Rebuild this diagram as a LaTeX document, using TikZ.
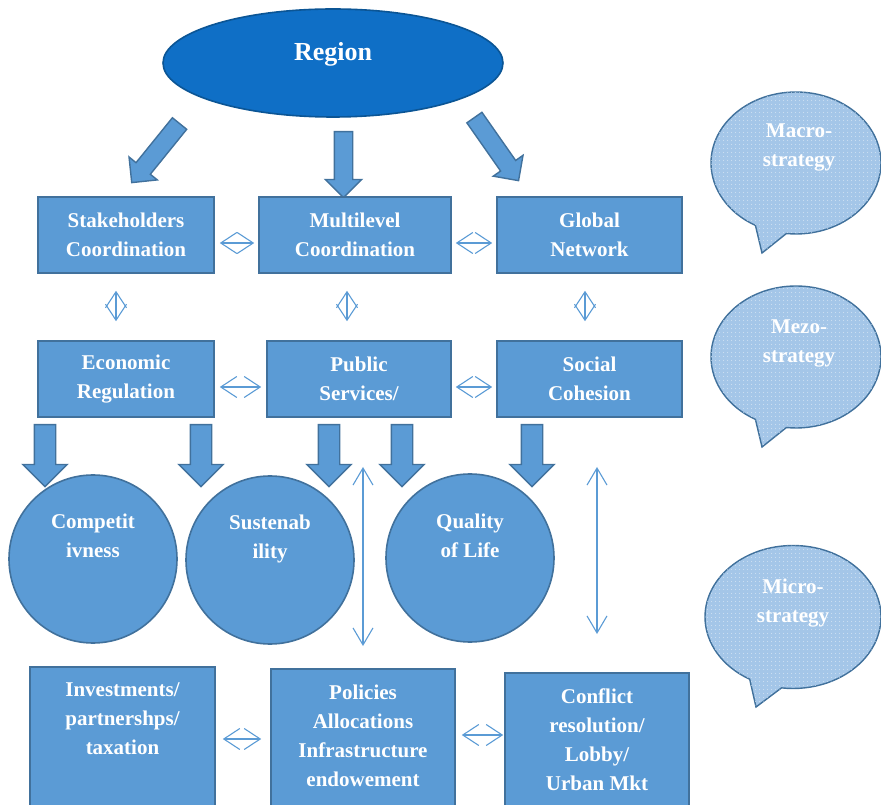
\documentclass[tikz,border=0pt]{standalone}
\usepackage{fontspec}
\setmainfont{Liberation Serif}
\usetikzlibrary{positioning,shapes.geometric,shapes.arrows,shapes.callouts,arrows.meta,patterns.meta}

\definecolor{boxfill}{HTML}{5B9BD5}
\definecolor{boxline}{HTML}{41719C}
\definecolor{regionfill}{HTML}{0F6FC6}
\definecolor{regionline}{HTML}{0B5595}
\definecolor{bubblefill}{HTML}{A4C6E8}

\begin{document}
\begin{tikzpicture}[x=1pt,y=1pt,
		labeltext/.style={text=white,font=\fontsize{21}{29}\selectfont\bfseries,align=center,inner sep=0pt},
		box/.style={rectangle,draw=boxline,fill=boxfill,line width=1.6pt,minimum height=76pt,labeltext},
		blob/.style={circle,draw=boxline,fill=boxfill,line width=1.6pt,minimum size=168pt,inner sep=0pt},
		bubble/.style={ellipse callout,draw=boxline,line width=1.4pt,fill=bubblefill,postaction={pattern={Dots[distance=4pt,radius=0.55pt]},pattern color=white!75!bubblefill},minimum width=170pt,minimum height=142pt,inner sep=0pt,callout pointer arc=22},
		fatarrow/.style={single arrow,draw=boxline,fill=boxfill,line width=1.4pt,inner sep=8.5pt,single arrow head extend=9pt,minimum width=35pt,anchor=tail},
		fatarrowlow/.style={fatarrow,inner sep=10pt,single arrow head extend=11.5pt,minimum width=43pt,minimum height=62pt,rotate=-90},
		twoway/.style={draw=boxfill,line width=1.1pt,{Straight Barb[length=16pt,width=21pt]}-{Straight Barb[length=16pt,width=21pt]}},
		longway/.style={draw=boxfill,line width=1.1pt,{Straight Barb[length=17pt,width=20pt]}-{Straight Barb[length=17pt,width=20pt]}}]
		\clip (0,0) rectangle (881,804);

		% top level
		\node[ellipse,draw=regionline,fill=regionfill,line width=1.6pt,minimum width=340pt,minimum height=108pt] (region) at (333,741) {};
		\node[labeltext,font=\fontsize{26}{30}\selectfont\bfseries] (regiontxt) at (333,750) {Region};

		\node[fatarrow,rotate=231,minimum height=76pt]	(arrstake)	at (180,681) {};
		\node[fatarrow,rotate=-90,minimum height=66pt]	(arrmulti)	at (343.5,673) {};
		\node[fatarrow,rotate=-55,minimum height=77pt]	(arrglobal)	at (474,687) {};

		% macro row
		\node[box,minimum width=176pt]	(stake)		at (126,569)	{Stakeholders\\Coordination};
		\node[box,minimum width=192pt]	(multi)		at (355,569)	{Multilevel\\Coordination};
		\node[box,minimum width=185pt]	(global)	at (589.5,569)	{Global\\Network};

		% mezo row
		\node[box,minimum width=176pt]	(econ)		at (126,425)	{Economic\\Regulation};
		\node[box,minimum width=184pt]	(public)	at (359,425)	{Public\\Services/};
		\node[box,minimum width=185pt]	(social)	at (589.5,425)	{Social\\Cohesion};

		\draw[twoway,shorten <=5pt,shorten >=4pt] ([yshift=-8pt]stake.east) -- ([yshift=-8pt]multi.west);
		\draw[twoway,shorten <=4pt,shorten >=4pt] ([yshift=-8pt]multi.east) -- ([yshift=-8pt]global.west);
		\draw[twoway,shorten <=5pt,shorten >=5pt] ([yshift=-8pt]econ.east) -- ([yshift=-8pt]public.west);
		\draw[twoway,shorten <=4pt,shorten >=4pt] ([yshift=-8pt]public.east) -- ([yshift=-8pt]social.west);
		\draw[twoway,shorten <=17pt,shorten >=19pt] ([xshift=-10pt]stake.south) -- ([xshift=-10pt]econ.north);
		\draw[twoway,shorten <=17pt,shorten >=19pt] ([xshift=-8pt]multi.south) -- ([xshift=-12pt]public.north);
		\draw[twoway,shorten <=17pt,shorten >=19pt] ([xshift=-4.5pt]global.south) -- ([xshift=-4.5pt]social.north);

		\node[fatarrowlow]	(arrcompA)	at (45,380)		{};
		\node[fatarrowlow]	(arrsustA)	at (201,380)	{};
		\node[fatarrowlow]	(arrsustB)	at (329,380)	{};
		\node[fatarrowlow]	(arrqualA)	at (402,380)	{};
		\node[fatarrowlow]	(arrqualB)	at (532,380)	{};

		% outcomes
		\node[blob]	(compet)	at (93,245)		{};
		\node[blob]	(susten)	at (270,244)	{};
		\node[blob]	(quality)	at (470,246)	{};
		\node[labeltext]	(competxt)	at (93,268.5)	{Competit\\ivness};
		\node[labeltext]	(sustentxt)	at (270,265.5)	{Sustenab\\ility};
		\node[labeltext]	(qualitytxt)	at (470,268.5)	{Quality\\of Life};

		\coordinate (linkAtop) at (363,337);
		\coordinate (linkAbot) at (363,158);
		\coordinate (linkBtop) at (597,337);
		\coordinate (linkBbot) at (597,170);
		\draw[longway] (linkAtop) -- (linkAbot);
		\draw[longway] (linkBtop) -- (linkBbot);

		% micro row
		\node[box,minimum width=185pt,minimum height=140pt]	(invest)	at (122.5,67)	{};
		\node[box,minimum width=184pt,minimum height=140pt]	(policy)	at (363,65)		{};
		\node[box,minimum width=184pt,minimum height=140pt]	(conflict)	at (597,61)		{};
		\node[labeltext,below=16.5pt of invest.north]	(investtxt)		{Investments/\\partnershps/\\taxation};
		\node[labeltext,below=16.5pt of policy.north]	(policytxt)		{Policies\\Allocations\\Infrastructure\\endowement};
		\node[labeltext,below=16.5pt of conflict.north]	(conflicttxt)	{Conflict\\resolution/\\Lobby/\\Urban Mkt};

		\draw[twoway,shorten <=7pt,shorten >=9pt] ([yshift=-2pt]invest.east) -- (policy.west);
		\draw[twoway,shorten <=6pt,shorten >=1pt] ([yshift=4pt]policy.east) -- ([yshift=8pt]conflict.west);

		% strategy levels
		\node[bubble,callout absolute pointer={(762,551)}]	(macro)	at (796,641)	{};
		\node[bubble,callout absolute pointer={(762,357)}]	(mezo)	at (796,447)	{};
		\node[bubble,minimum width=176pt,minimum height=143pt,callout absolute pointer={(756,97)}]	(micro)	at (793,187)	{};
		\node[labeltext]	(macrotxt)	at (799,656.5)	{Macro-\\strategy};
		\node[labeltext]	(mezotxt)	at (799,461)	{Mezo-\\strategy};
		\node[labeltext]	(microtxt)	at (793,201)	{Micro-\\strategy};
	\end{tikzpicture}
\end{document}
